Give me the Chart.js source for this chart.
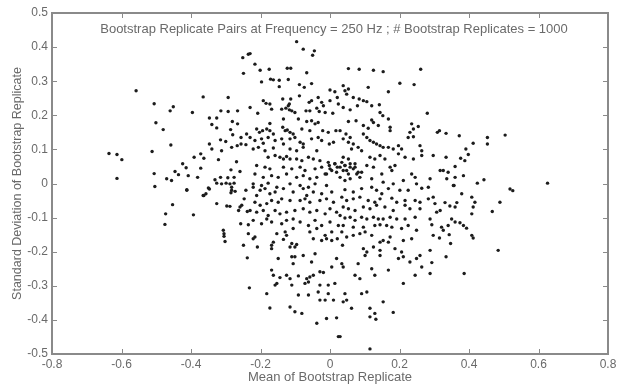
<!DOCTYPE html>
<html>
<head>
<meta charset="utf-8">
<script src="https://cdn.jsdelivr.net/npm/chart.js@4/dist/chart.umd.min.js"></script>
<style>
  html, body { margin: 0; padding: 0; background: #fff; }
  #wrap { width: 629px; height: 385px; }
</style>
</head>
<body>
<div id="wrap"><canvas id="bootChart" width="629" height="385"></canvas></div>
<script>
// tick values for both axes
const xTicks = [-0.8, -0.6, -0.4, -0.2, 0, 0.2, 0.4, 0.6, 0.8];
const yTicks = [-0.5, -0.4, -0.3, -0.2, -0.1, 0, 0.1, 0.2, 0.3, 0.4, 0.5];

const chartTitle = 'Bootstrap Replicate Pairs at Frequency = 250 Hz ; # Bootstrap Replicates = 1000';
const xLabel = 'Mean of Bootstrap Replicate';
const yLabel = 'Standard Deviation of Bootstrap Replicate';

// [mean, std dev] pairs
const farLeft = [
  [-0.636,0.088],[-0.613,0.085],[-0.599,0.070],[-0.613,0.015],[-0.558,0.272],[-0.506,0.234],
  [-0.501,0.178],[-0.512,0.094],[-0.506,0.029],[-0.504,-0.009],
  [-0.473,-0.089],[-0.475,-0.120],[-0.453,-0.062],[-0.393,-0.092],[-0.363,-0.035],[-0.326,-0.059],
  [-0.307,-0.137],[-0.305,-0.147],[-0.305,-0.155],[-0.302,-0.170],[-0.297,-0.066],[-0.288,-0.067],
  [-0.263,-0.079],[-0.259,-0.069],[-0.254,-0.064],[-0.257,-0.118],[-0.235,-0.121],[-0.235,-0.147],
  [-0.249,-0.181],[-0.238,-0.218],[-0.232,-0.306],[-0.144,-0.276],[-0.168,-0.181],
  [-0.412,-0.020],[-0.347,-0.016],[-0.365,-0.035],[-0.357,-0.030],[-0.283,-0.020],[-0.273,-0.023],
  [-0.285,-0.027],[-0.242,-0.020],[-0.247,-0.045],[-0.238,-0.082]
];

const upperLeft = [
  [-0.251,0.369],[-0.235,0.379],[-0.249,0.323],[-0.365,0.254],[-0.293,0.252],[-0.451,0.225],
  [-0.460,0.213],[-0.396,0.208],[-0.480,0.158],[-0.314,0.213],[-0.293,0.211],[-0.266,0.213],
  [-0.347,0.192],[-0.326,0.192],[-0.340,0.173],[-0.281,0.182],[-0.266,0.175],[-0.326,0.163],
  [-0.286,0.158],[-0.280,0.143],[-0.256,0.135],[-0.240,0.145],[-0.315,0.128],[-0.300,0.123],
  [-0.256,0.116],[-0.347,0.116],[-0.283,0.106],[-0.267,0.111],[-0.242,0.114],[-0.458,0.113],
  [-0.340,0.101],[-0.312,0.096],[-0.372,0.087],[-0.391,0.077],[-0.363,0.074],[-0.321,0.070],
  [-0.269,0.064],[-0.424,0.058],[-0.414,0.046],[-0.372,0.045],[-0.285,0.040],[-0.259,0.035],
  [-0.446,0.035],[-0.436,0.026],[-0.408,0.023],[-0.381,0.018],[-0.331,0.011],[-0.315,0.018],
  [-0.294,0.017],[-0.276,0.018],[-0.470,0.014],[-0.456,0.009],[-0.326,0.001],[-0.312,-0.001],
  [-0.299,0.001],[-0.288,-0.001],[-0.276,0.001],[-0.350,-0.013],[-0.283,-0.011],[-0.412,-0.018]
];

const upperMid = [
  [-0.096,0.416],[-0.077,0.394],[-0.050,0.376],[-0.045,0.389],[-0.230,0.381],[-0.216,0.350],
  [-0.201,0.332],[-0.175,0.335],[-0.123,0.338],[-0.113,0.338],[-0.067,0.325],[-0.197,0.298],
  [-0.171,0.306],[-0.163,0.304],[-0.146,0.303],[-0.120,0.305],[-0.146,0.284],[-0.088,0.290],
  [-0.074,0.282],[-0.053,0.293],[-0.088,0.257],[0.000,0.274],[0.014,0.269],[0.021,0.252],
  [-0.192,0.243],[-0.184,0.235],[-0.173,0.233],[-0.136,0.248],[-0.113,0.248],[-0.117,0.233],
  [-0.060,0.238],[-0.053,0.243],[-0.034,0.252],[-0.024,0.238],[-0.019,0.228],[0.000,0.243],
  [0.024,0.233],[-0.230,0.223],[-0.208,0.206],[-0.168,0.218],[-0.139,0.218],[-0.127,0.221],
  [-0.120,0.228],[-0.117,0.216],[-0.110,0.213],[-0.101,0.208],[-0.069,0.213],[-0.058,0.213],
  [-0.038,0.221],[-0.031,0.211],[-0.014,0.208],[0.008,0.206],[-0.091,0.189],[-0.067,0.182],
  [-0.053,0.184],[-0.043,0.175],[-0.034,0.179],[-0.134,0.189],[-0.173,0.176],[-0.211,0.160],
  [-0.203,0.150],[-0.194,0.155],[-0.182,0.160],[-0.173,0.155],[-0.163,0.145],[-0.136,0.165],
  [-0.129,0.155],[-0.123,0.157],[-0.115,0.150],[-0.106,0.145],[-0.081,0.160],[-0.058,0.155],
  [-0.021,0.155],[-0.005,0.150],[0.017,0.155],[-0.230,0.135],[-0.216,0.126],[-0.197,0.131],
  [-0.192,0.118],[-0.178,0.135],[-0.158,0.126],[-0.139,0.131],[-0.134,0.116],[-0.115,0.131],
  [-0.101,0.135],[-0.086,0.121],[-0.077,0.116],[-0.053,0.131],[-0.034,0.135],[-0.024,0.126],
  [-0.002,0.116],[0.010,0.121],[-0.221,0.101],[-0.206,0.106],[-0.187,0.096],[-0.163,0.104],
  [-0.115,0.101],[-0.096,0.096],[-0.077,0.106],[-0.038,0.096],[-0.178,0.077],[-0.158,0.082],
  [-0.144,0.077],[-0.134,0.072],[-0.125,0.079],[-0.115,0.072],[-0.096,0.072],[-0.081,0.067],
  [-0.062,0.077],[-0.048,0.072],[-0.029,0.067],[-0.005,0.062],[0.014,0.058],[-0.211,0.053],
  [-0.187,0.048],[-0.173,0.043],[-0.134,0.048],[-0.110,0.043],[-0.086,0.048],[-0.072,0.038],
  [-0.043,0.043],[-0.024,0.048],[-0.002,0.053],[-0.216,0.028],[-0.192,0.018],[-0.168,0.023],
  [-0.149,0.018],[-0.125,0.028],[-0.096,0.018],[-0.077,0.023],[-0.058,0.014],[-0.038,0.018],
  [-0.014,0.028],[0.005,0.038],[0.021,0.048],[-0.221,-0.001],[-0.197,-0.006],[-0.178,0.001],
  [-0.153,-0.011],[-0.115,-0.001],[-0.086,-0.006],[-0.062,-0.011],[-0.043,-0.001],[-0.010,-0.006]
];

const upperRight = [
  [0.053,0.337],[0.084,0.335],[0.125,0.332],[0.153,0.328],[0.261,0.335],[0.201,0.294],
  [0.242,0.290],[0.110,0.282],[0.168,0.269],[0.038,0.287],[0.043,0.272],[0.053,0.277],
  [0.048,0.262],[0.067,0.252],[0.084,0.248],[0.096,0.243],[0.106,0.240],[0.038,0.223],
  [0.058,0.216],[0.079,0.228],[0.120,0.228],[0.142,0.231],[0.144,0.208],[0.152,0.199],
  [0.168,0.189],[0.280,0.206],[0.075,0.184],[0.053,0.182],[0.120,0.186],[0.125,0.179],
  [0.139,0.170],[0.096,0.170],[0.110,0.162],[0.235,0.175],[0.254,0.167],[0.240,0.160],
  [0.230,0.150],[0.225,0.135],[0.240,0.137],[0.173,0.165],[0.173,0.155],[0.029,0.155],
  [0.046,0.145],[0.058,0.135],[0.038,0.131],[0.053,0.121],[0.067,0.116],[0.096,0.145],
  [0.106,0.135],[0.115,0.126],[0.125,0.121],[0.134,0.116],[0.144,0.111],[0.153,0.106],
  [0.168,0.106],[0.182,0.101],[0.197,0.111],[0.206,0.101],[0.259,0.111],[0.264,0.096],
  [0.081,0.106],[0.091,0.096],[0.062,0.101],[0.038,0.077],[0.053,0.072],[0.034,0.062],
  [0.043,0.053],[0.058,0.048],[0.072,0.058],[0.115,0.077],[0.129,0.072],[0.144,0.082],
  [0.158,0.072],[0.197,0.087],[0.216,0.077],[0.240,0.072],[0.264,0.082],[0.106,0.053],
  [0.125,0.048],[0.173,0.048],[0.187,0.053],[0.048,0.038],[0.067,0.043],[0.077,0.028],
  [0.091,0.033],[0.149,0.028],[0.178,0.038],[0.235,0.028],[0.245,0.018],[0.029,0.018],
  [0.043,0.009],[0.058,0.014],[0.086,0.018],[0.120,0.014],[0.153,0.004],[0.182,-0.001],
  [0.211,0.009],[0.249,-0.001],[0.283,-0.011],
  [0.014,0.058],[0.029,0.048],[0.043,0.053],[0.058,0.058],[0.072,0.048],[0.038,0.038],
  [0.019,0.033],[0.000,0.043],[-0.010,0.028],[0.053,0.028],[0.081,0.033],
  [0.309,0.150],[0.315,0.155],[0.334,0.147],[0.372,0.140],[0.412,0.118],[0.453,0.135],
  [0.453,0.116],[0.504,0.142],[0.297,0.082],[0.334,0.077],[0.391,0.101],[0.398,0.085],
  [0.376,0.074],[0.388,0.067],[0.360,0.050],[0.317,0.038],[0.326,0.038],[0.340,0.033],
  [0.288,0.014],[0.336,0.014],[0.360,0.018],[0.384,0.023],[0.357,-0.006],[0.424,0.001],
  [0.443,0.011],[0.518,-0.016],[0.526,-0.021],[0.626,0.001]
];

const lowerMid = [
  [-0.221,-0.011],[-0.201,-0.020],[-0.187,-0.015],[-0.211,-0.035],[-0.173,-0.030],[-0.158,-0.025],
  [-0.134,-0.015],[-0.106,-0.025],[-0.077,-0.015],[-0.067,-0.035],[-0.048,-0.025],[-0.024,-0.030],
  [0.005,-0.025],[-0.216,-0.055],[-0.201,-0.064],[-0.182,-0.059],[-0.168,-0.050],[-0.149,-0.055],
  [-0.139,-0.045],[-0.115,-0.050],[-0.086,-0.050],[-0.072,-0.045],[-0.058,-0.055],[-0.029,-0.050],
  [-0.010,-0.045],[0.010,-0.055],[-0.230,-0.079],[-0.211,-0.084],[-0.192,-0.079],[-0.178,-0.094],
  [-0.158,-0.079],[-0.144,-0.089],[-0.125,-0.084],[-0.101,-0.079],[-0.077,-0.074],[-0.058,-0.084],
  [-0.038,-0.079],[-0.014,-0.089],[0.000,-0.074],[0.019,-0.084],[-0.221,-0.108],[-0.197,-0.118],
  [-0.182,-0.104],[-0.168,-0.113],[-0.139,-0.118],[-0.125,-0.108],[-0.106,-0.104],[-0.086,-0.113],
  [-0.062,-0.123],[-0.043,-0.108],[-0.024,-0.123],[0.000,-0.113],[0.024,-0.123],[-0.153,-0.147],
  [-0.129,-0.142],[-0.125,-0.152],[-0.106,-0.132],[-0.058,-0.142],[-0.038,-0.132],[-0.014,-0.152],
  [0.005,-0.142],[-0.216,-0.157],[-0.221,-0.162],[-0.163,-0.172],[-0.134,-0.164],[-0.110,-0.176],
  [-0.101,-0.186],[-0.048,-0.162],[-0.024,-0.167],[-0.010,-0.162],[0.005,-0.167],[0.021,-0.162],
  [-0.209,-0.186],[-0.168,-0.191],[-0.115,-0.186],[-0.096,-0.179],[-0.149,-0.220],[-0.110,-0.215],
  [-0.101,-0.215],[-0.077,-0.211],[-0.043,-0.206],[0.019,-0.220],[-0.106,-0.235],[-0.053,-0.230],
  [0.005,-0.245],[-0.168,-0.254],[-0.163,-0.269],[-0.125,-0.269],[-0.115,-0.279],[-0.091,-0.271],
  [-0.067,-0.279],[-0.058,-0.274],[-0.048,-0.269],[-0.029,-0.259],[-0.019,-0.261],[-0.153,-0.293],
  [-0.158,-0.298],[-0.110,-0.298],[-0.072,-0.293],[-0.062,-0.289],[-0.029,-0.298],[-0.005,-0.298],
  [0.014,-0.293],[-0.182,-0.323],[-0.091,-0.327],[-0.062,-0.327],[-0.034,-0.318],[-0.005,-0.323],
  [-0.029,-0.342],[-0.014,-0.342],[0.010,-0.342],[-0.173,-0.365],[-0.115,-0.362],[-0.101,-0.376],
  [-0.081,-0.381],[-0.038,-0.410],[-0.010,-0.396],[0.019,-0.394],[0.024,-0.449]
];

const lowerRight = [
  [0.043,-0.018],[0.067,-0.025],[0.091,-0.015],[0.120,-0.011],[0.134,-0.020],[0.149,-0.030],
  [0.168,-0.015],[0.201,-0.020],[0.225,-0.020],[0.264,-0.014],[0.034,-0.040],[0.048,-0.050],
  [0.067,-0.045],[0.086,-0.040],[0.110,-0.050],[0.129,-0.055],[0.144,-0.045],[0.178,-0.043],
  [0.192,-0.055],[0.216,-0.050],[0.245,-0.050],[0.259,-0.055],[0.283,-0.045],[0.038,-0.069],
  [0.053,-0.074],[0.072,-0.079],[0.096,-0.069],[0.115,-0.074],[0.134,-0.064],[0.158,-0.069],
  [0.182,-0.079],[0.216,-0.064],[0.230,-0.074],[0.259,-0.074],[0.029,-0.094],[0.043,-0.101],
  [0.058,-0.099],[0.072,-0.108],[0.091,-0.099],[0.106,-0.104],[0.125,-0.099],[0.139,-0.104],
  [0.153,-0.104],[0.173,-0.099],[0.192,-0.104],[0.216,-0.104],[0.245,-0.099],[0.038,-0.123],
  [0.067,-0.128],[0.096,-0.128],[0.129,-0.123],[0.144,-0.121],[0.163,-0.123],[0.178,-0.128],
  [0.206,-0.132],[0.225,-0.123],[0.249,-0.137],[0.034,-0.142],[0.048,-0.157],[0.067,-0.152],
  [0.086,-0.147],[0.101,-0.142],[0.120,-0.152],[0.144,-0.172],[0.153,-0.167],[0.168,-0.172],
  [0.173,-0.157],[0.211,-0.167],[0.235,-0.162],[0.036,-0.181],[0.096,-0.191],[0.106,-0.201],
  [0.101,-0.211],[0.125,-0.186],[0.144,-0.196],[0.144,-0.211],[0.187,-0.191],[0.197,-0.220],
  [0.206,-0.201],[0.211,-0.215],[0.230,-0.230],[0.249,-0.220],[0.259,-0.211],[0.264,-0.245],
  [0.034,-0.235],[0.038,-0.245],[0.081,-0.235],[0.072,-0.269],[0.086,-0.279],[0.120,-0.250],
  [0.129,-0.269],[0.168,-0.254],[0.211,-0.293],[0.245,-0.269],[0.043,-0.323],[0.038,-0.347],
  [0.048,-0.342],[0.091,-0.323],[0.106,-0.318],[0.153,-0.347],[0.062,-0.366],[0.115,-0.366],
  [0.129,-0.381],[0.115,-0.391],[0.132,-0.398],[0.182,-0.378],[0.029,-0.449],[0.115,-0.485],
  [0.355,-0.006],[0.297,-0.040],[0.379,-0.030],[0.408,-0.040],[0.417,-0.055],[0.412,-0.069],
  [0.489,-0.055],[0.467,-0.082],[0.302,-0.059],[0.331,-0.056],[0.365,-0.056],[0.345,-0.066],
  [0.360,-0.069],[0.317,-0.079],[0.307,-0.084],[0.408,-0.089],[0.288,-0.104],[0.293,-0.121],
  [0.350,-0.104],[0.360,-0.113],[0.374,-0.115],[0.384,-0.123],[0.393,-0.131],[0.321,-0.128],
  [0.326,-0.137],[0.340,-0.123],[0.297,-0.152],[0.315,-0.160],[0.343,-0.150],[0.408,-0.152],
  [0.412,-0.160],[0.347,-0.176],[0.484,-0.196],[0.288,-0.196],[0.334,-0.215],[0.293,-0.232],
  [0.288,-0.264],[0.386,-0.264]
];

const AXIS_COLOR = '#8a8a8a';
const TEXT_COLOR = '#6a6a6a';
const FONT = '"Liberation Sans", Arial, sans-serif';

const allPairs = farLeft.concat(upperLeft, upperMid, upperRight, lowerMid, lowerRight);

const fmt = (v) => {
    const r = Math.round(v * 10) / 10;
    return r === 0 ? '0' : r.toFixed(1);
};

// MATLAB-like box with inward ticks and the title inside the axes
const boxPlugin = {
    id: 'boxPlugin',
    afterDraw(chart) {
        const { ctx, chartArea: a, scales } = chart;
        ctx.save();
        ctx.strokeStyle = AXIS_COLOR;
        ctx.lineWidth = 2;
        ctx.strokeRect(a.left, a.top, a.right - a.left, a.bottom - a.top);
        ctx.lineWidth = 1;
        ctx.beginPath();
        xTicks.forEach(v => {
            const px = Math.round(scales.x.getPixelForValue(v)) + 0.5;
            ctx.moveTo(px, a.bottom); ctx.lineTo(px, a.bottom - 5);
            ctx.moveTo(px, a.top); ctx.lineTo(px, a.top + 5);
        });
        yTicks.forEach(v => {
            const py = Math.round(scales.y.getPixelForValue(v)) + 0.5;
            ctx.moveTo(a.left, py); ctx.lineTo(a.left + 5, py);
            ctx.moveTo(a.right, py); ctx.lineTo(a.right - 5, py);
        });
        ctx.stroke();
        ctx.fillStyle = TEXT_COLOR;
        ctx.font = '13px ' + FONT;
        ctx.textAlign = 'center';
        ctx.textBaseline = 'middle';
        ctx.fillText(chartTitle, (a.left + a.right) / 2 + 4, a.top + 16);
        ctx.restore();
    }
};

const ctx = document.getElementById('bootChart').getContext('2d');

new Chart(ctx, {
    type: 'scatter',
    data: {
        datasets: [{
            data: allPairs.map(p => ({ x: p[0], y: p[1] })),
            backgroundColor: '#1c1c1c',
            borderWidth: 0,
            pointRadius: 1.7,
            pointHoverRadius: 1.7
        }]
    },
    options: {
        responsive: false,
        animation: false,
        layout: { padding: { top: 13, right: 21, left: 0, bottom: 0 } },
        plugins: {
            legend: { display: false },
            tooltip: { enabled: false }
        },
        scales: {
            x: {
                type: 'linear',
                min: -0.8,
                max: 0.8,
                afterBuildTicks: (scale) => { scale.ticks = xTicks.map(v => ({ value: v })); },
                afterFit: (scale) => { scale.height = 31; },
                grid: { display: false, drawTicks: false, tickLength: 0 },
                border: { display: false },
                ticks: {
                    color: TEXT_COLOR,
                    font: { family: FONT, size: 12 },
                    padding: 3,
                    maxRotation: 0,
                    autoSkip: false,
                    callback: (v) => fmt(v)
                },
                title: {
                    display: true,
                    text: xLabel,
                    color: TEXT_COLOR,
                    font: { family: FONT, size: 13 },
                    padding: { top: 0, bottom: 0 }
                }
            },
            y: {
                type: 'linear',
                min: -0.5,
                max: 0.5,
                afterBuildTicks: (scale) => { scale.ticks = yTicks.map(v => ({ value: v })); },
                afterFit: (scale) => { scale.width = 52; },
                grid: { display: false, drawTicks: false, tickLength: 0 },
                border: { display: false },
                ticks: {
                    color: TEXT_COLOR,
                    font: { family: FONT, size: 12 },
                    padding: 4,
                    autoSkip: false,
                    callback: (v) => fmt(v)
                },
                title: {
                    display: true,
                    text: yLabel,
                    color: TEXT_COLOR,
                    font: { family: FONT, size: 12.5 },
                    padding: { top: 10, bottom: 0 }
                }
            }
        }
    },
    plugins: [boxPlugin]
});
</script>
</body>
</html>
